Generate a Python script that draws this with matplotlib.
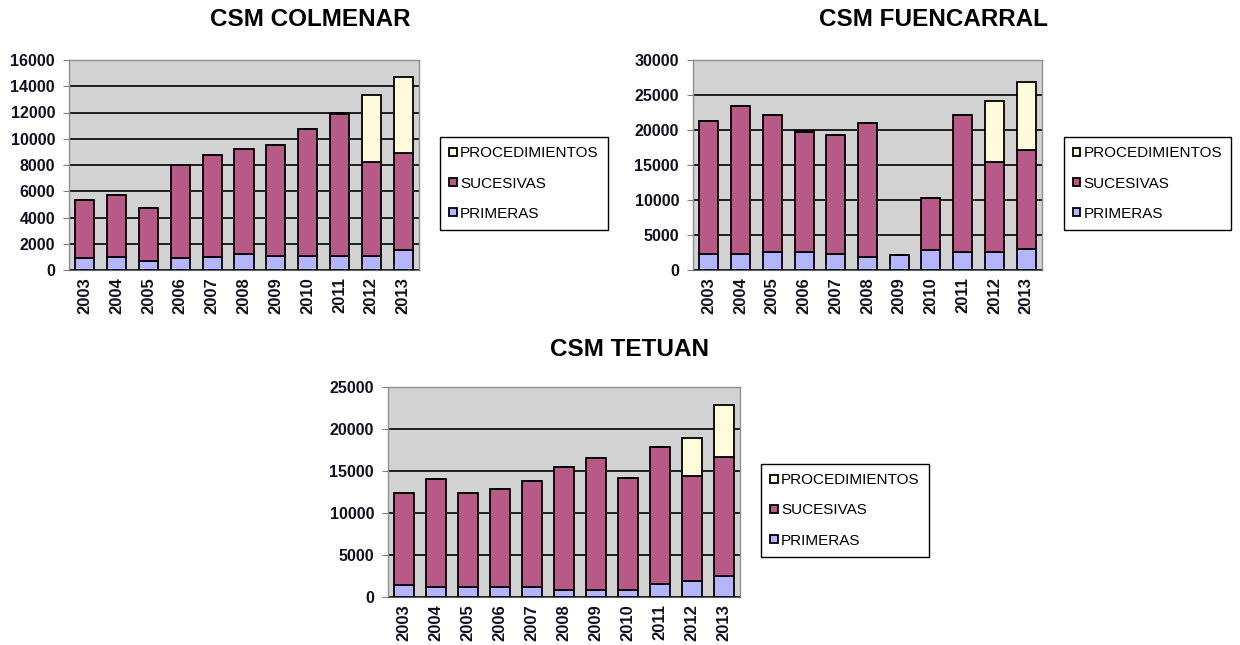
import numpy as np
import matplotlib.pyplot as plt

plt.rcParams['font.family'] = ['Liberation Sans', 'DejaVu Sans']

years = ['2003', '2004', '2005', '2006', '2007', '2008', '2009', '2010', '2011', '2012', '2013']

# CSM COLMENAR
col_primeras = [900, 1000, 700, 900, 1000, 1250, 1100, 1100, 1100, 1100, 1500]
col_sucesivas = [4450, 4750, 4000, 7100, 7800, 7950, 8400, 9650, 10800, 7150, 7400]
col_proced = [0, 0, 0, 0, 0, 0, 0, 0, 80, 5100, 5800]

# CSM FUENCARRAL
fue_primeras = [2300, 2300, 2550, 2550, 2300, 1900, 2150, 2800, 2550, 2550, 3000]
fue_sucesivas = [18950, 21150, 19550, 17200, 17000, 19150, 0, 7500, 19550, 12900, 14200]
fue_proced = [0, 0, 0, 100, 0, 0, 0, 0, 0, 8650, 9650]

# CSM TETUAN
tet_primeras = [1400, 1200, 1200, 1200, 1200, 850, 850, 850, 1550, 1950, 2450]
tet_sucesivas = [11000, 12850, 11200, 11600, 12650, 14600, 15700, 13350, 16250, 12400, 14250]
tet_proced = [0, 0, 0, 0, 0, 0, 0, 0, 0, 4550, 6200]

c_prim = '#B4B4FF'
c_suc = '#B85A87'
c_proc = '#FFFBDC'
bg = '#D2D2D2'
txt = '#111122'

W, H = 1240, 645
fig = plt.figure(figsize=(W / 100, H / 100), dpi=100)


def px_axes(x0, y0, x1, y1):
    return fig.add_axes([x0 / W, 1 - y1 / H, (x1 - x0) / W, (y1 - y0) / H])


def panel(rect, title, title_xy, prim, suc, proc, ymax, ystep, leg_rect):
    ax = px_axes(*rect)
    x = np.arange(len(years))
    prim = np.array(prim)
    suc = np.array(suc)
    proc = np.array(proc)
    kw = dict(width=0.6, edgecolor='black', linewidth=1.3, zorder=3)
    b1 = ax.bar(x, prim, color=c_prim, **kw)
    b2 = ax.bar(x, suc, bottom=prim, color=c_suc, **kw)
    b3 = ax.bar(x, proc, bottom=prim + suc, color=c_proc, **kw)
    ax.set_facecolor(bg)
    ax.set_xlim(-0.5, len(years) - 0.5)
    ax.set_ylim(0, ymax)
    ax.set_yticks(np.arange(0, ymax + 1, ystep))
    ax.yaxis.grid(True, color='black', linewidth=1.2, zorder=0)
    ax.set_axisbelow(True)
    ax.set_xticks(x)
    ax.set_xticklabels(years, rotation=90, fontsize=12, fontweight='bold', color=txt)
    ax.tick_params(axis='y', labelsize=11.5, length=4, color='#808080', pad=6)
    for lab in ax.get_yticklabels():
        lab.set_fontweight('bold')
        lab.set_color(txt)
    ax.tick_params(axis='x', length=0, pad=5)
    for s in ['top', 'right', 'left']:
        ax.spines[s].set_color('#909090')
        ax.spines[s].set_linewidth(1)
    ax.spines['bottom'].set_color('#606060')
    fig.text(title_xy[0] / W, 1 - title_xy[1] / H, title, ha='center', va='center',
             fontsize=17.5, fontweight='bold')
    lx0, ly0, lx1, ly1 = leg_rect
    fig.legend([b3, b2, b1], ['PROCEDIMIENTOS', 'SUCESIVAS', 'PRIMERAS'],
               loc='center', bbox_to_anchor=((lx0 + lx1) / 2 / W, 1 - (ly0 + ly1) / 2 / H),
               fontsize=11, frameon=True, fancybox=False, edgecolor='black',
               handlelength=0.5, handleheight=0.5, handletextpad=0.2,
               labelspacing=1.05, borderpad=0.6, borderaxespad=0, framealpha=1)
    return ax


panel((69, 60, 419, 270), 'CSM COLMENAR', (310, 19), col_primeras, col_sucesivas, col_proced,
      16000, 2000, (441, 138, 607, 229))
panel((693, 60, 1042, 270), 'CSM FUENCARRAL', (933, 19), fue_primeras, fue_sucesivas, fue_proced,
      30000, 5000, (1066, 138, 1229, 229))
panel((388, 387, 740, 597), 'CSM TETUAN', (630, 349), tet_primeras, tet_sucesivas, tet_proced,
      25000, 5000, (762, 465, 928, 556))

fig.savefig('out.png', dpi=100)
